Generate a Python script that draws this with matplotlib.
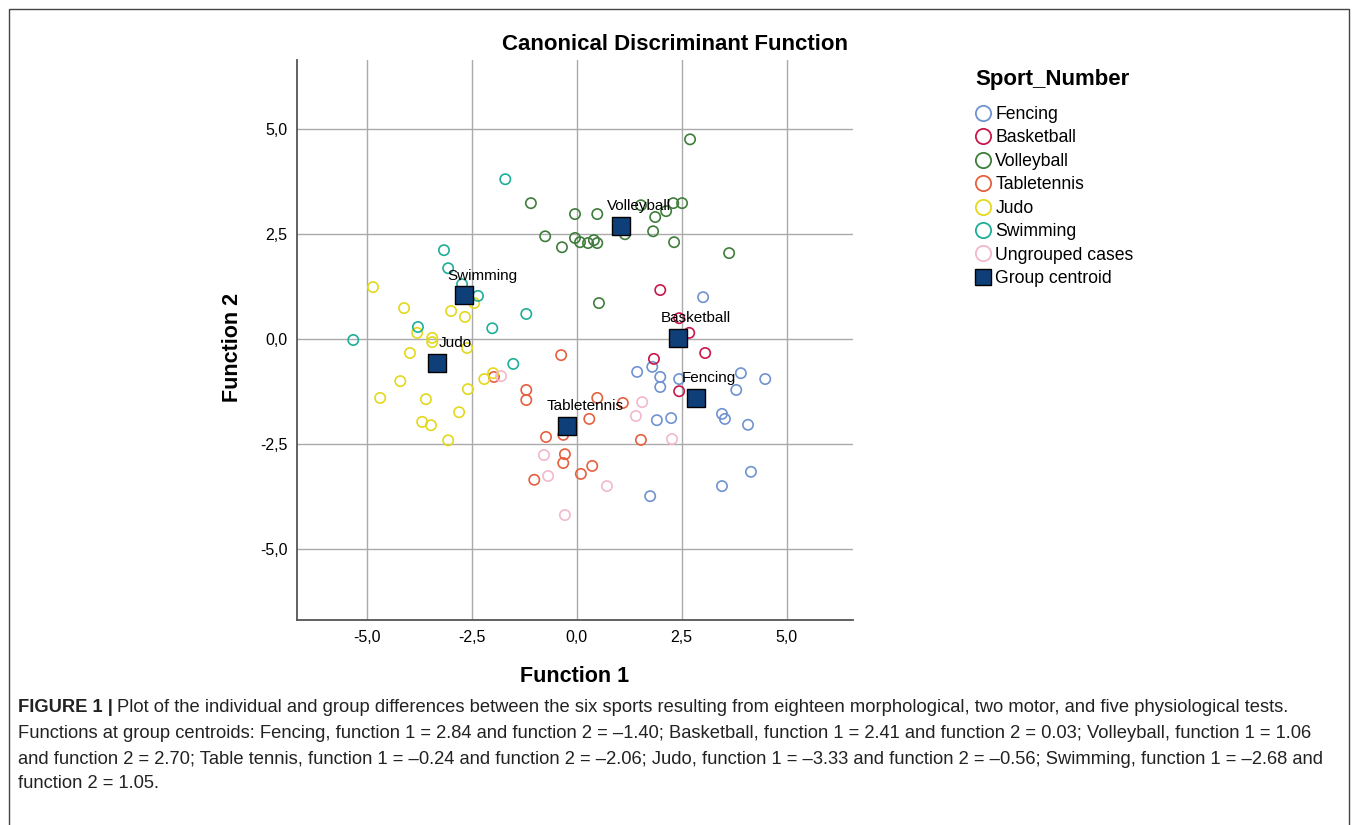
import numpy as np
import matplotlib
matplotlib.use('Agg')
import matplotlib.pyplot as plt
from matplotlib.lines import Line2D

plt.rcParams['font.family'] = ['Liberation Sans', 'DejaVu Sans']

# Discriminant scores (Function 1, Function 2)
fencing_x = [3.01, 1.44, 1.80, 1.99, 1.99, 2.44, 3.91, 4.49, 3.80, 3.46, 3.53, 4.08, 1.91, 2.25, 4.15, 3.46, 1.75]
fencing_y = [1.00, -0.78, -0.66, -0.90, -1.14, -0.95, -0.81, -0.95, -1.21, -1.78, -1.90, -2.04, -1.93, -1.88, -3.16, -3.50, -3.74]

basketball_x = [1.99, 2.44, 2.68, 1.84, 3.06, 2.44]
basketball_y = [1.17, 0.50, 0.15, -0.47, -0.33, -1.24]

volleyball_x = [-1.09, -0.04, 0.49, -0.75, -0.35, -0.04, 0.08, 0.27, 0.41, 0.49, 1.15,
                1.82, 1.87, 1.53, 2.13, 2.30, 2.51, 2.32, 3.63, 2.70, 0.53]
volleyball_y = [3.24, 2.98, 2.98, 2.45, 2.19, 2.41, 2.31, 2.29, 2.36, 2.29, 2.50,
                2.57, 2.91, 3.19, 3.05, 3.24, 3.24, 2.31, 2.05, 4.76, 0.86]

tabletennis_x = [-0.37, -1.97, -1.20, -1.20, 0.49, 1.10, 0.30, 1.53, -0.32, -0.73, -0.28, -0.32, 0.37, 0.10, -1.01]
tabletennis_y = [-0.38, -0.90, -1.21, -1.45, -1.40, -1.52, -1.90, -2.40, -2.28, -2.33, -2.74, -2.95, -3.02, -3.21, -3.35]

judo_x = [-4.85, -2.44, -4.11, -2.99, -2.66, -3.80, -3.44, -3.44, -2.61, -3.97,
          -4.20, -2.20, -1.99, -2.59, -4.68, -3.59, -2.80, -3.68, -3.47, -3.06]
judo_y = [1.24, 0.86, 0.74, 0.67, 0.53, 0.15, 0.03, -0.07, -0.21, -0.33,
          -1.00, -0.95, -0.81, -1.19, -1.40, -1.43, -1.74, -1.97, -2.05, -2.41]

swimming_x = [-1.70, -3.16, -3.06, -2.73, -2.35, -1.20, -2.01, -3.78, -5.32, -1.51]
swimming_y = [3.81, 2.12, 1.69, 1.31, 1.03, 0.60, 0.26, 0.29, -0.02, -0.59]

ungrouped_x = [-1.80, -0.78, -0.68, -0.28, 1.56, 1.41, 2.27, 0.72]
ungrouped_y = [-0.88, -2.76, -3.26, -4.19, -1.50, -1.83, -2.38, -3.50]

# Group centroids
centroid_names = ['Fencing', 'Basketball', 'Volleyball', 'Tabletennis', 'Judo', 'Swimming']
centroid_x = [2.84, 2.41, 1.06, -0.24, -3.33, -2.68]
centroid_y = [-1.40, 0.03, 2.70, -2.06, -0.56, 1.05]

groups = [
    ('Fencing', fencing_x, fencing_y, '#6f93d0'),
    ('Basketball', basketball_x, basketball_y, '#c8174a'),
    ('Volleyball', volleyball_x, volleyball_y, '#3f7d3a'),
    ('Tabletennis', tabletennis_x, tabletennis_y, '#e6603f'),
    ('Judo', judo_x, judo_y, '#e3d91c'),
    ('Swimming', swimming_x, swimming_y, '#1fae98'),
    ('Ungrouped cases', ungrouped_x, ungrouped_y, '#f2b8cc'),
]
centroid_color = '#0e3f78'

fig = plt.figure(figsize=(13.57, 8.25), dpi=100)
ax = fig.add_axes([297 / 1357, 205 / 825, 556 / 1357, 560 / 825])

for name, gx, gy, col in groups:
    ax.scatter(gx, gy, s=55, facecolors='none', edgecolors=col, linewidths=1.2, zorder=3)

ax.scatter(centroid_x, centroid_y, s=150, marker='s', c=centroid_color,
           edgecolors='black', linewidths=1.0, zorder=5)
for name, cx, cy in zip(centroid_names, centroid_x, centroid_y):
    dx = 9 if name == 'Fencing' else 13
    ax.annotate(name, (cx, cy), xytext=(dx, 14), textcoords='offset points',
                ha='center', va='center', fontsize=11, color='black', zorder=6)

ax.set_xlim(-6.66, 6.58)
ax.set_ylim(-6.69, 6.65)
ticks = [-5.0, -2.5, 0.0, 2.5, 5.0]
ax.set_xticks(ticks)
ax.set_yticks(ticks)
ax.set_xticklabels([f'{t:.1f}'.replace('.', ',') for t in ticks], fontsize=11.5)
ax.set_yticklabels([f'{t:.1f}'.replace('.', ',') for t in ticks], fontsize=11.5)
ax.tick_params(length=0, pad=7)
ax.grid(True, color='#aaaaaa', linewidth=1.0)
ax.set_axisbelow(True)
for side in ['top', 'right']:
    ax.spines[side].set_visible(False)
for side in ['left', 'bottom']:
    ax.spines[side].set_color('#555555')
    ax.spines[side].set_linewidth(1.3)

fig.text(675 / 1357, 1 - 45 / 825, 'Canonical Discriminant Function', ha='center', va='center',
         fontsize=16, fontweight='bold')
fig.text(575 / 1357, 1 - 677 / 825, 'Function 1', ha='center', va='center',
         fontsize=15.5, fontweight='bold')
fig.text(232 / 1357, 1 - 347 / 825, 'Function 2', ha='center', va='center',
         fontsize=15.5, fontweight='bold', rotation=90)

# Legend
handles = [Line2D([], [], marker='o', ls='none', markersize=11, markerfacecolor='none',
                  markeredgecolor=col, markeredgewidth=1.3, label=name)
           for name, gx, gy, col in groups]
handles.append(Line2D([], [], marker='s', ls='none', markersize=11, markerfacecolor=centroid_color,
                      markeredgecolor='black', label='Group centroid'))
fig.text(975 / 1357, 1 - 80 / 825, 'Sport_Number', ha='left', va='center',
         fontsize=16, fontweight='bold')
leg = fig.legend(handles=handles, loc='upper left', bbox_to_anchor=(976 / 1357, 1 - 106 / 825),
                 frameon=False, fontsize=12.7, alignment='left',
                 handlelength=0.8, handletextpad=0.3, labelspacing=0.365, borderpad=0,
                 borderaxespad=0)

# Frame around figure
border = dict(color='#444444', linewidth=1.0, transform=fig.transFigure)
fig.add_artist(Line2D([8.5 / 1357, 8.5 / 1357, 1348.5 / 1357, 1348.5 / 1357],
                      [0, 1 - 8.5 / 825, 1 - 8.5 / 825, 0], **border))

# Caption
caption_lines = [
    'Plot of the individual and group differences between the six sports resulting from eighteen morphological, two motor, and five physiological tests.',
    'Functions at group centroids: Fencing, function 1 = 2.84 and function 2 = \u20131.40; Basketball, function 1 = 2.41 and function 2 = 0.03; Volleyball, function 1 = 1.06',
    'and function 2 = 2.70; Table tennis, function 1 = \u20130.24 and function 2 = \u20132.06; Judo, function 1 = \u20133.33 and function 2 = \u20130.56; Swimming, function 1 = \u20132.68 and',
    'function 2 = 1.05.',
]
cap_y = [708, 734, 759, 784]
x0 = 18 / 1357
fig.canvas.draw()
renderer = fig.canvas.get_renderer()
bold = fig.text(x0, 1 - cap_y[0] / 825, 'FIGURE 1 |', fontsize=13.2, fontweight='bold',
                va='center', ha='left', color='#222222')
w = bold.get_window_extent(renderer).width / fig.bbox.width
for i, (line, yy) in enumerate(zip(caption_lines, cap_y)):
    xx = x0 + w + 4 / 1357 if i == 0 else x0
    fig.text(xx, 1 - yy / 825, line, fontsize=13.2, va='center', ha='left', color='#222222')

fig.savefig('out.png', dpi=100)
